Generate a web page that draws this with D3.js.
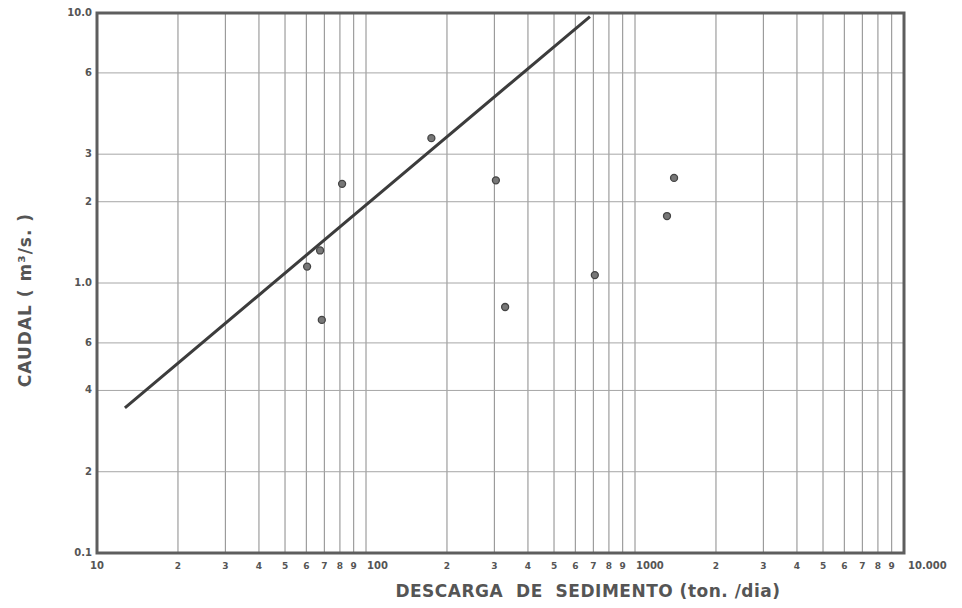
<!DOCTYPE html>
<html>
<head>
<meta charset="utf-8">
<script src="https://cdn.jsdelivr.net/npm/d3@7"></script>
<style>
  body { margin: 0; background: #fff; }
  svg { display: block; }
  text { font-family: "DejaVu Sans", "Liberation Sans", sans-serif; fill: #555; }
</style>
</head>
<body>
<svg id="chart" width="962" height="608"></svg>
<script>
// ---- data ----
const xDomain = [10, 10000];
const yDomain = [0.1, 10];
const xGridValues = [20,30,40,50,60,70,80,90,100,200,300,400,500,600,700,800,900,1000,2000,3000,4000,5000,6000,7000,8000,9000];
const xTickValues = [10,20,30,40,50,60,70,80,90,100,200,300,400,500,600,700,800,900,1000,2000,3000,4000,5000,6000,7000,8000,9000,10000];
const xTickLabels = ["10","2","3","4","5","6","7","8","9","100","2","3","4","5","6","7","8","9","1000","2","3","4","5","6","7","8","9","10.000"];
const yTickValues = [0.1,0.2,0.4,0.6,1,2,3,6,10];
const yTickLabels = ["0.1","2","4","6","1.0","2","3","6","10.0"];
const pointsX = [60.4, 67.5, 81.5, 175, 68.5, 304, 329, 709, 1315, 1397];
const pointsY = [1.15, 1.32, 2.33, 3.44, 0.73, 2.40, 0.815, 1.07, 1.77, 2.45];
const lineX = [12.7, 680];
const lineY = [0.345, 9.7];
const xTitle = "DESCARGA  DE  SEDIMENTO (ton. /dia)";
const yTitle = "CAUDAL ( m³/s. )";

// ---- layout ----
const mLeft = 97, mRight = 904, mTop = 13, mBottom = 553;
const svg = d3.select("#chart");
const x = d3.scaleLog().domain(xDomain).range([mLeft, mRight]);
const y = d3.scaleLog().domain(yDomain).range([mBottom, mTop]);

// grid
svg.append("g").selectAll("line").data(xGridValues).join("line")
  .attr("x1", d => x(d)).attr("x2", d => x(d))
  .attr("y1", mTop).attr("y2", mBottom)
  .attr("stroke", "#8a8a8a").attr("stroke-width", 1);
svg.append("g").selectAll("line").data(yTickValues.filter(v => v > 0.1 && v < 10)).join("line")
  .attr("x1", mLeft).attr("x2", mRight)
  .attr("y1", d => y(d)).attr("y2", d => y(d))
  .attr("stroke", "#a6a6a6").attr("stroke-width", 1);

// frame
svg.append("rect").attr("x", mLeft).attr("y", mTop)
  .attr("width", mRight - mLeft).attr("height", mBottom - mTop)
  .attr("fill", "none").attr("stroke", "#5e5e5e").attr("stroke-width", 3);

// x tick labels
const nX = xTickValues.length;
svg.append("g").selectAll("text").data(xTickValues).join("text")
  .attr("x", (d, i) => {
    if (i === nX - 1) return x(d) + 4;
    if (d === 100 || d === 1000) return x(d) + 1;
    return x(d);
  })
  .attr("y", mBottom + 16)
  .attr("text-anchor", (d, i) => (i === nX - 1 || d === 100 || d === 1000) ? "start" : "middle")
  .attr("font-size", (d, i) => (i === nX - 1 || d === 100 || d === 1000 || d === 10) ? 10 : 9)
  .attr("font-weight", "bold")
  .text((d, i) => xTickLabels[i]);

// y tick labels
svg.append("g").selectAll("text").data(yTickValues).join("text")
  .attr("x", mLeft - 5).attr("y", d => y(d) + 3)
  .attr("text-anchor", "end")
  .attr("font-size", 10).attr("font-weight", "bold")
  .text((d, i) => yTickLabels[i]);

// regression line
const lineData = lineX.map((v, i) => [v, lineY[i]]);
svg.append("path").datum(lineData)
  .attr("d", d3.line().x(d => x(d[0])).y(d => y(d[1])))
  .attr("stroke", "#3c3c3c").attr("stroke-width", 3).attr("fill", "none");

// points
svg.append("g").selectAll("circle").data(pointsX.map((v, i) => [v, pointsY[i]])).join("circle")
  .attr("cx", d => x(d[0])).attr("cy", d => y(d[1])).attr("r", 3.5)
  .attr("fill", "#777").attr("stroke", "#444").attr("stroke-width", 1.3);

// titles
svg.append("text").attr("x", 588).attr("y", 597)
  .attr("text-anchor", "middle").attr("font-size", 17).attr("font-weight", "bold")
  .attr("letter-spacing", 0.5).style("white-space", "pre")
  .text(xTitle);
svg.append("text").attr("transform", "translate(31,300) rotate(-90)")
  .attr("text-anchor", "middle").attr("font-size", 17).attr("font-weight", "bold")
  .attr("letter-spacing", 1)
  .text(yTitle);
</script>
</body>
</html>
